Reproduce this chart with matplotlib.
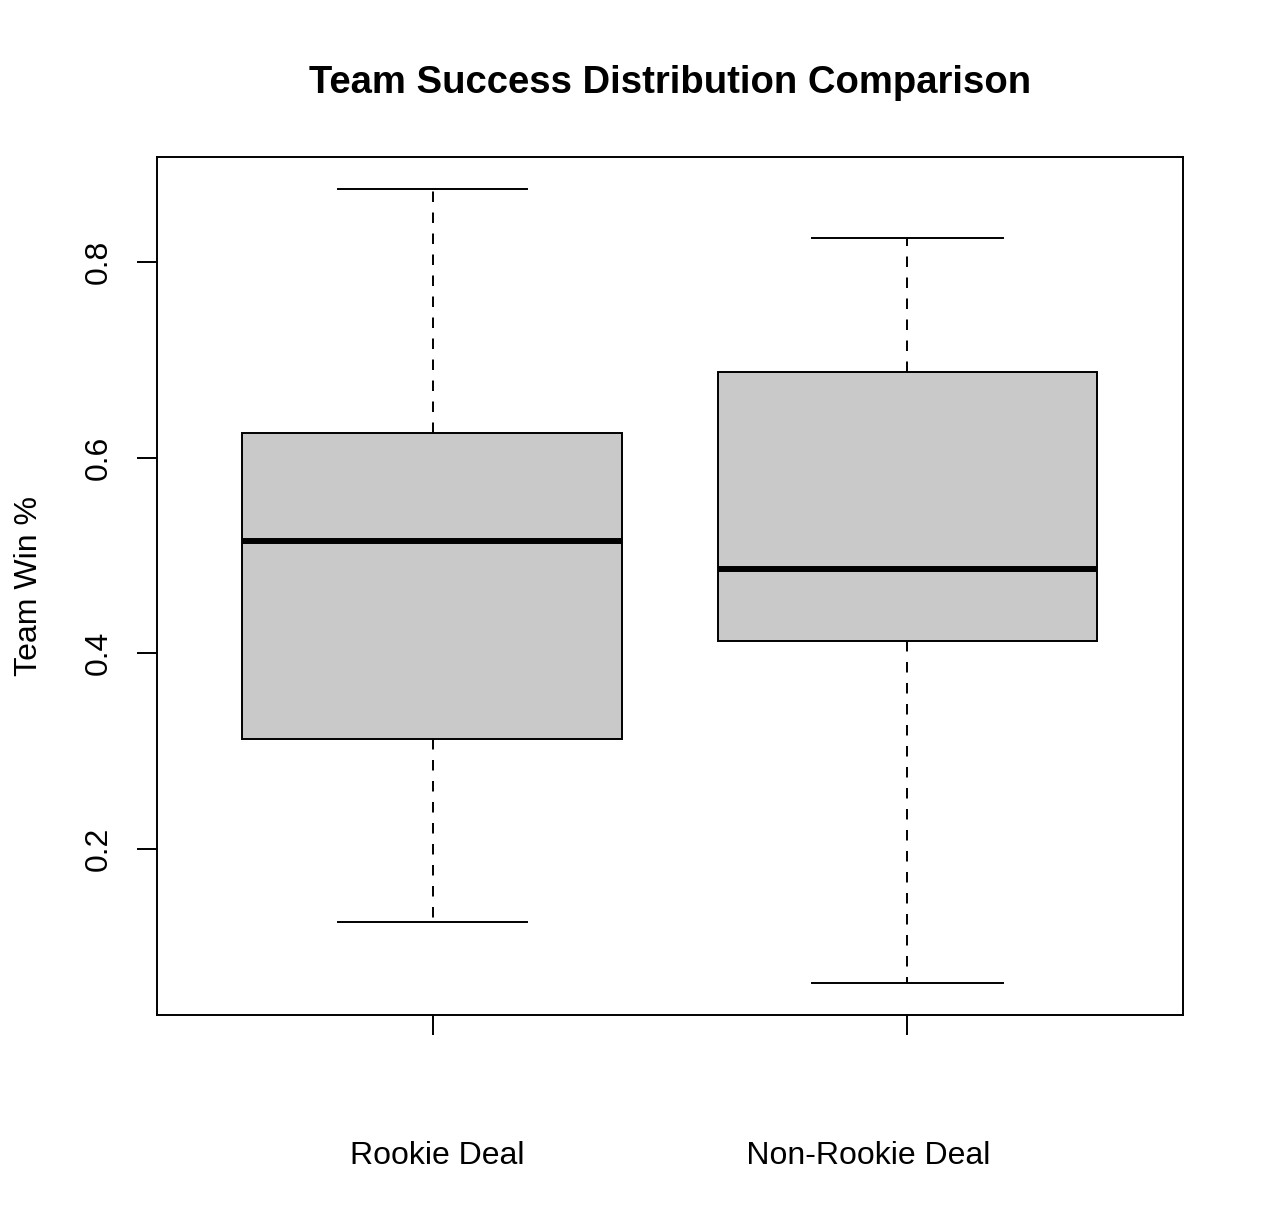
import matplotlib.pyplot as plt

plt.rcParams['font.family'] = ['Liberation Sans', 'DejaVu Sans']

# five-number summaries
groups = ["Rookie Deal", "Non-Rookie Deal"]
whisker_low = [0.125, 0.0625]
q1 = [0.3125, 0.4125]
median = [0.515, 0.486]
q3 = [0.625, 0.6875]
whisker_high = [0.875, 0.825]

stats = []
for i, name in enumerate(groups):
    stats.append({
        "label": name,
        "whislo": whisker_low[i],
        "q1": q1[i],
        "med": median[i],
        "q3": q3[i],
        "whishi": whisker_high[i],
        "fliers": [],
    })

fig = plt.figure(figsize=(12.64, 12.12), dpi=100)
ax = fig.add_axes([157 / 1264, 1 - 1015 / 1212, 1026 / 1264, 858 / 1212])

ax.bxp(stats, positions=[1, 2], widths=0.8, capwidths=0.4, patch_artist=True,
       showfliers=False,
       boxprops=dict(facecolor='#C9C9C9', edgecolor='black', linewidth=1.4),
       whiskerprops=dict(color='black', linewidth=1.4, linestyle=(0, (5.4, 5.4))),
       capprops=dict(color='black', linewidth=1.4),
       medianprops=dict(color='black', linewidth=4.3, solid_capstyle='butt'))

ax.set_xlim(0.42, 2.58)
ax.set_ylim(0.03, 0.9075)
ax.set_yticks([0.2, 0.4, 0.6, 0.8])
ax.set_yticklabels(['0.2', '0.4', '0.6', '0.8'], rotation=90, va='center')
ax.set_xticks([1, 2])
ax.set_xticklabels(['', ''])
ax.tick_params(axis='both', length=14.4, width=1.4, labelsize=23, direction='out')
ax.tick_params(axis='y', pad=17)
for s in ax.spines.values():
    s.set_linewidth(1.4)

ax.set_title("Team Success Distribution Comparison", fontsize=27.5,
             fontweight='bold', pad=46)
ax.set_xlabel("Rookie Deal" + " " * 25 + "Non-Rookie Deal", fontsize=23, va='center')
ax.xaxis.set_label_coords(0.5, -0.1645)
ax.set_ylabel("Team Win %", fontsize=23, va='center')
ax.yaxis.set_label_coords(-0.125, 0.5)

fig.savefig("out.png", dpi=100)
